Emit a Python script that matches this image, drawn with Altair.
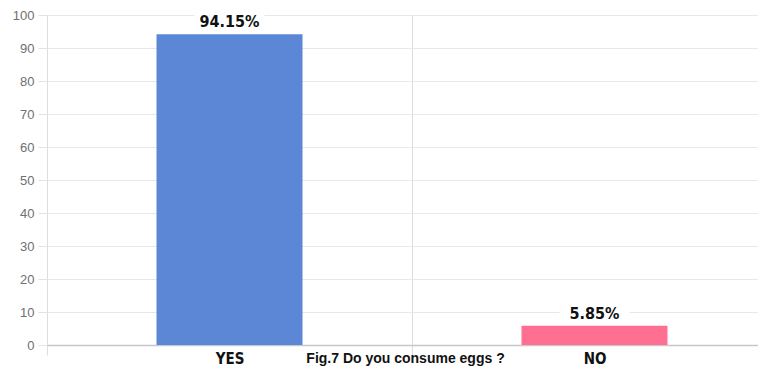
import altair as alt
import pandas as pd

categories = ["YES", "NO"]
values = [94.15, 5.85]
labels = ["94.15%", "5.85%"]
colors = ["#5b87d6", "#ff6f91"]

df = pd.DataFrame({"answer": categories, "pct": values, "label": labels})

x_enc = alt.X(
    "answer:N",
    sort=categories,
    scale=alt.Scale(paddingInner=0, paddingOuter=0),
    axis=alt.Axis(
        title="Fig.7 Do you consume eggs ?",
        titleFont="Liberation Sans",
        titleFontSize=14,
        titleFontWeight="bold",
        titleColor="#111111",
        titleBaseline="middle",
        titleY=13,
        titleX=358,
        labelAngle=0,
        labelFont="DejaVu Sans Condensed",
        labelFontSize=15,
        labelFontWeight="bold",
        labelColor="#111111",
        labelPadding=-4,
        bandPosition=0,
        grid=True,
        gridColor="#dddddd",
        tickBand="extent",
        tickSize=10,
        tickColor="#dddddd",
        domainColor="#c8c8c8",
        domainWidth=1.5,
    ),
)

y_axis = alt.Axis(
    title=None,
    values=list(range(0, 101, 10)),
    labelOverlap=False,
    labelFont="Liberation Sans",
    labelFontSize=13,
    labelColor="#707070",
    labelPadding=4,
    tickSize=9,
    tickColor="#e2e2e2",
    gridColor="#e8e8e8",
    domain=False,
)
y_scale = alt.Scale(domain=[0, 100])

base = alt.Chart(df).encode(x=x_enc)

boxes = base.mark_bar(color="white", size=70, yOffset=-26, y2Offset=0).encode(
    y=alt.Y("pct:Q", scale=y_scale, axis=y_axis), y2="pct:Q"
)

bars = base.mark_bar(size=146).encode(
    y=alt.Y("pct:Q", scale=y_scale, axis=y_axis),
    color=alt.Color("answer:N", scale=alt.Scale(domain=categories, range=colors), legend=None),
)

text = base.mark_text(
    baseline="bottom",
    dy=-4,
    font="DejaVu Sans Condensed",
    fontSize=16,
    fontWeight="bold",
    color="#111111",
).encode(y=alt.Y("pct:Q", scale=y_scale, axis=y_axis), text="label:N")

chart = (
    alt.layer(boxes, bars, text)
    .properties(
        width=730,
        height=330,
        autosize=alt.AutoSizeParams(type="none"),
        padding={"left": 39, "top": 7, "right": -19, "bottom": 23},
    )
    .configure_view(stroke=None)
)

chart.save("out.html", embed_options={"renderer": "svg", "actions": False})
